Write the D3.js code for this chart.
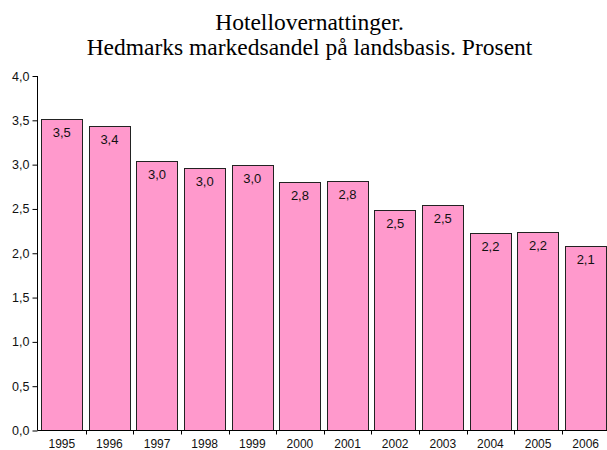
<!DOCTYPE html>
<html>
<head>
<meta charset="utf-8">
<script src="https://cdn.jsdelivr.net/npm/d3@7"></script>
<style>
  html, body { margin: 0; padding: 0; background: #fff; }
  svg { display: block; }
</style>
</head>
<body>
<script>
const titleLines = ["Hotellovernattinger.", "Hedmarks markedsandel på landsbasis. Prosent"];
const years = ["1995","1996","1997","1998","1999","2000","2001","2002","2003","2004","2005","2006"];
const shares = [3.51, 3.44, 3.04, 2.96, 3.00, 2.80, 2.82, 2.49, 2.54, 2.23, 2.24, 2.08];
const yTicks = [0, 0.5, 1, 1.5, 2, 2.5, 3, 3.5, 4];

const W = 607, H = 450;
const svg = d3.select("body").append("svg").attr("width", W).attr("height", H);

const loc = d3.formatLocale({decimal: ",", thousands: " ", grouping: [3], currency: ["", " kr"]});
const fmt = loc.format(".1f");

const x = d3.scaleBand().domain(years).range([38, 609.5]).paddingInner(0.13).paddingOuter(0.065);
const y = d3.scaleLinear().domain([0, 4]).range([430.5, 76]);

// title
svg.append("g").selectAll("text").data(titleLines).join("text")
  .attr("x", 309.5).attr("y", (d, i) => 30 + i * 25)
  .attr("text-anchor", "middle")
  .style("font-family", "'Liberation Serif', 'Times New Roman', serif")
  .style("font-size", "23.5px")
  .attr("fill", "#000")
  .text(d => d);

// bars
svg.append("g").selectAll("rect").data(years).join("rect")
  .attr("x", d => Math.round(x(d)) + 0.5)
  .attr("y", (d, i) => Math.round(y(shares[i])) + 0.5)
  .attr("width", Math.round(x.bandwidth()))
  .attr("height", (d, i) => y(0) - Math.round(y(shares[i])) - 0.5)
  .attr("fill", "#FF99CC")
  .attr("stroke", "#222")
  .attr("stroke-width", 1);

// value labels
svg.append("g").selectAll("text").data(years).join("text")
  .attr("x", d => x(d) + x.bandwidth() / 2)
  .attr("y", (d, i) => y(shares[i]) + 18)
  .attr("text-anchor", "middle")
  .style("font-family", "'Liberation Sans', Arial, sans-serif")
  .style("font-size", "13px")
  .attr("fill", "#111")
  .text((d, i) => fmt(shares[i]));

// y axis
const yAxis = d3.axisLeft(y).tickValues(yTicks).tickFormat(fmt).tickSize(5).tickPadding(3);
const gy = svg.append("g").attr("transform", "translate(37.5,0)").call(yAxis);
gy.select(".domain").attr("stroke", "#000").attr("d", `M0,${y(4)}V${y(0)}`);
gy.selectAll(".tick line").attr("stroke", "#000");
gy.selectAll(".tick text")
  .style("font-family", "'Liberation Sans', Arial, sans-serif")
  .style("font-size", "12.5px")
  .attr("fill", "#111");

// x axis
const step = x.step();
const x0 = x.range()[0];
const gx = svg.append("g").attr("transform", `translate(0,${y(0)})`);
gx.append("line").attr("x1", 37.5).attr("x2", W).attr("y1", 0).attr("y2", 0).attr("stroke", "#000");
gx.selectAll("line.tk").data(years).join("line").attr("class", "tk")
  .attr("x1", (d, i) => Math.round(x0 + (i + 1) * step) + 0.5)
  .attr("x2", (d, i) => Math.round(x0 + (i + 1) * step) + 0.5)
  .attr("y1", 0).attr("y2", 4).attr("stroke", "#000");
gx.selectAll("text").data(years).join("text")
  .attr("x", d => x(d) + x.bandwidth() / 2)
  .attr("y", 17.5)
  .attr("text-anchor", "middle")
  .style("font-family", "'Liberation Sans', Arial, sans-serif")
  .style("font-size", "12px")
  .attr("fill", "#111")
  .text(d => d);
</script>
</body>
</html>
